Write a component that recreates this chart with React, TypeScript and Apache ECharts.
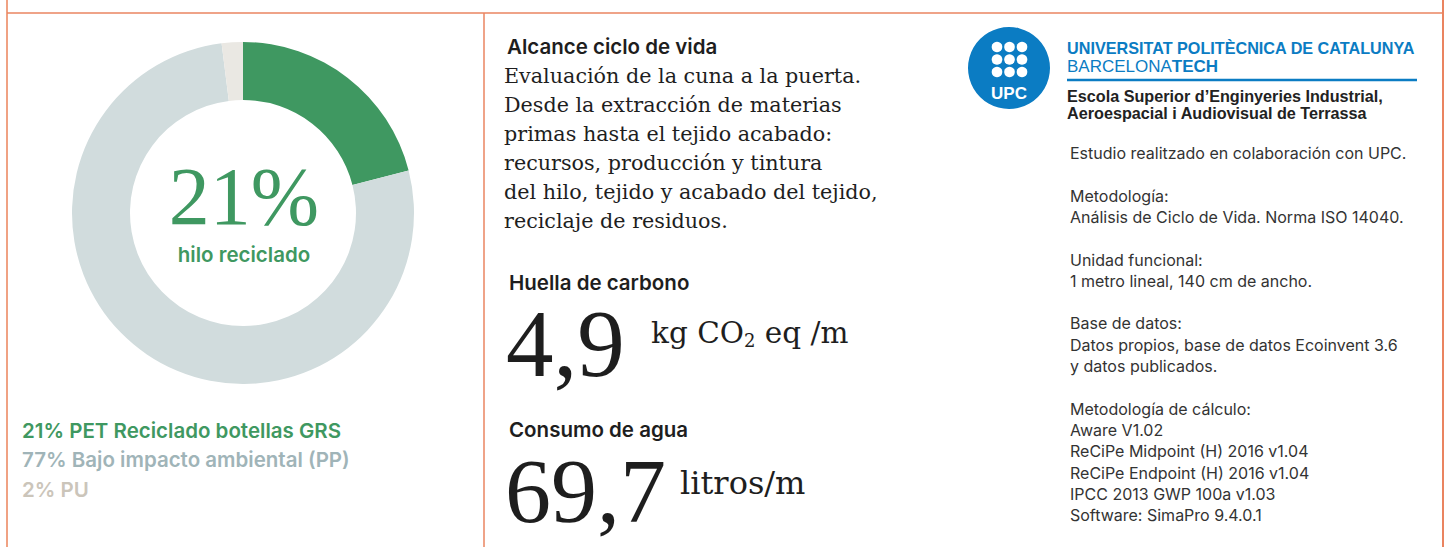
import React, { useEffect, useRef } from "react";
import * as echarts from "echarts";

// ---- data ----
const sliceNames = ["PET Reciclado botellas GRS", "Bajo impacto ambiental (PP)", "PU"];
const sliceValues = [21, 77, 2];
const centerCaption = "hilo reciclado";

const scopeTitle = "Alcance ciclo de vida";
const scopeLines = [
  "Evaluación de la cuna a la puerta.",
  "Desde la extracción de materias",
  "primas hasta el tejido acabado:",
  "recursos, producción y tintura",
  "del hilo, tejido y acabado del tejido,",
  "reciclaje de residuos.",
];
const carbonTitle = "Huella de carbono";
const carbonValue = "4,9";
const waterTitle = "Consumo de agua";
const waterValue = "69,7";
const waterUnit = "litros/m";

const uniName = "UNIVERSITAT POLITÈCNICA DE CATALUNYA";
const schoolLines = ["Escola Superior d’Enginyeries Industrial,", "Aeroespacial i Audiovisual de Terrassa"];
const infoLines = [
  "Estudio realitzado en colaboración con UPC.",
  "",
  "Metodología:",
  "Análisis de Ciclo de Vida. Norma ISO 14040.",
  "",
  "Unidad funcional:",
  "1 metro lineal, 140 cm de ancho.",
  "",
  "Base de datos:",
  "Datos propios, base de datos Ecoinvent 3.6",
  "y datos publicados.",
  "",
  "Metodología de cálculo:",
  "Aware V1.02",
  "ReCiPe Midpoint (H) 2016 v1.04",
  "ReCiPe Endpoint (H) 2016 v1.04",
  "IPCC 2013 GWP 100a v1.03",
  "Software: SimaPro 9.4.0.1",
];

// ---- styles ----
const sliceColors = ["#3F9861", "#D1DCDD", "#EAE8E3"];
const legendColors = ["#3F9861", "#A0B4B8", "#CBC5BA"];
const borderColor = "#EA8460";
const upcBlue = "#0B7CC3";
const SANS = "Inter, 'Noto Sans', sans-serif";
const SERIF = "'DejaVu Serif', serif";
const NUMSERIF = "'Liberation Serif', serif";
const ARIAL = "'Liberation Sans', Arial, sans-serif";
const INK = "#1E1E1E";

export default function App() {
  const ref = useRef<HTMLDivElement>(null);
  useEffect(() => {
    if (!ref.current) return;
    const chart = echarts.init(ref.current, null, { renderer: "svg" });
    const g: any[] = [];
    const txt = (text: string, x: number, y: number, fontSize: number, fill: string, opts: any = {}) =>
      g.push({
        type: "text",
        silent: true,
        style: {
          text,
          x,
          y,
          fontSize,
          fill,
          fontFamily: opts.family || SANS,
          fontWeight: opts.weight || "normal",
          align: opts.align || "left",
          verticalAlign: "middle",
          lineHeight: opts.lineHeight,
          rich: opts.rich,
        },
      });
    const line = (x1: number, y1: number, x2: number, y2: number, color: string, w: number) =>
      g.push({ type: "line", silent: true, shape: { x1, y1, x2, y2 }, style: { stroke: color, lineWidth: w } });

    // borders
    line(7, 0, 7, 547, "#F0A283", 2);
    line(7, 13, 1443, 13, borderColor, 1.5);
    line(484, 13, 484, 547, borderColor, 1.5);
    line(1443, 0, 1443, 547, borderColor, 2);

    // donut center
    txt(sliceValues[0] + "%", 244, 196, 82, sliceColors[0], { family: NUMSERIF, align: "center", lineHeight: 76 });
    txt(centerCaption, 244, 254, 20.5, sliceColors[0], { weight: 600, align: "center", lineHeight: 22 });

    // legend
    sliceValues.forEach((v, i) => {
      txt(v + "% " + sliceNames[i], 22, 430 + i * 29.5, 20.5, legendColors[i], { weight: 600 });
    });

    // middle column
    txt(scopeTitle, 507, 46, 20.5, INK, { weight: 600 });
    scopeLines.forEach((s, i) => txt(s, 504, 76 + i * 29, 20.7, INK, { family: SERIF }));
    txt(carbonTitle, 509, 282, 20.5, INK, { weight: 600 });
    txt(carbonValue, 506, 344, 95, INK, { family: NUMSERIF });
    txt("{a|kg CO}{s|2}{a| eq /m}", 651, 333, 29.5, INK, {
      family: SERIF,
      rich: {
        a: { fontSize: 29.5, fontFamily: SERIF, fill: INK, lineHeight: 33 },
        s: { fontSize: 18, fontFamily: SERIF, fill: INK, lineHeight: 18, verticalAlign: "bottom" },
      },
    });
    txt(waterTitle, 509, 429, 20.5, INK, { weight: 600 });
    txt(waterValue, 505, 491, 92, INK, { family: NUMSERIF });
    txt(waterUnit, 680, 483, 32, INK, { family: SERIF });

    // UPC logo
    g.push({ type: "circle", silent: true, shape: { cx: 1009, cy: 68, r: 41 }, style: { fill: upcBlue } });
    for (let r = 0; r < 3; r++)
      for (let c = 0; c < 3; c++)
        g.push({
          type: "circle",
          silent: true,
          shape: { cx: 997 + c * 12.5, cy: 47 + r * 12.5, r: 5.3 },
          style: { fill: "#fff" },
        });
    txt("UPC", 1009, 93, 17, "#fff", { weight: "bold", align: "center", family: ARIAL });
    txt(uniName, 1067, 48, 16.2, upcBlue, { weight: "bold", family: ARIAL });
    txt("{r|BARCELONA}{b|TECH}", 1067, 66, 17, upcBlue, {
      family: ARIAL,
      rich: {
        r: { fontSize: 17, fill: upcBlue, fontFamily: ARIAL },
        b: { fontSize: 17, fill: upcBlue, fontWeight: "bold", fontFamily: ARIAL },
      },
    });
    line(1067, 80, 1417, 80, upcBlue, 2.5);
    schoolLines.forEach((s, i) => txt(s, 1067, 96 + i * 17, 16.2, "#222", { weight: "bold", family: ARIAL }));

    // info lines
    infoLines.forEach((s, i) => {
      if (s) txt(s, 1070, 153 + i * 21.3, 16, "#333");
    });

    chart.setOption({
      animation: false,
      backgroundColor: "#fff",
      series: [
        {
          type: "pie",
          center: [243, 213],
          radius: [113, 171],
          startAngle: 90,
          clockwise: true,
          silent: true,
          label: { show: false },
          labelLine: { show: false },
          emphasis: { disabled: true },
          data: sliceValues.map((v, i) => ({ value: v, name: sliceNames[i], itemStyle: { color: sliceColors[i] } })),
        },
      ],
      graphic: g,
    });
    return () => chart.dispose();
  }, []);
  return <div ref={ref} style={{ position: "absolute", left: 0, top: 0, width: 1450, height: 547 }} />;
}
